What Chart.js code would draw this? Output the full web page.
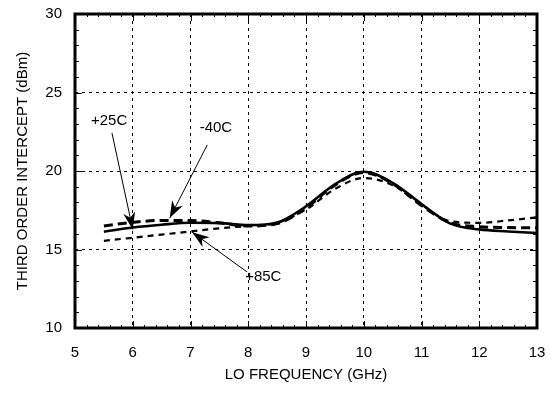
<!DOCTYPE html>
<html>
<head>
<meta charset="utf-8">
<script src="https://cdn.jsdelivr.net/npm/chart.js@4.4.1/dist/chart.umd.min.js"></script>
<style>
  html, body { margin: 0; padding: 0; background: #fff; }
  #wrap { width: 553px; height: 394px; }
</style>
</head>
<body>
<div id="wrap"><canvas id="ip3Chart" width="553" height="394"></canvas></div>
<script>
// LO frequency (GHz)
const freqs = [5.5, 6, 6.5, 7, 7.5, 8, 8.5, 9, 9.5, 10, 10.5, 11, 11.5, 12, 12.5, 13];

// Third order intercept (dBm) per temperature
const ip3_25C  = [16.13, 16.4, 16.58, 16.7, 16.68, 16.55, 16.72, 17.75, 19.15, 19.95, 19.25, 17.9, 16.65, 16.28, 16.15, 16.05];
const ip3_m40C = [16.5, 16.73, 16.85, 16.85, 16.7, 16.5, 16.65, 17.65, 19.1, 19.9, 19.2, 17.8, 16.7, 16.45, 16.4, 16.38];
const ip3_85C  = [15.55, 15.75, 15.95, 16.15, 16.35, 16.5, 16.7, 17.55, 18.85, 19.55, 19.1, 17.85, 16.8, 16.7, 16.85, 17.05];

const xTicks = [5, 6, 7, 8, 9, 10, 11, 12, 13];
const yTicks = [10, 15, 20, 25, 30];

// label callouts: text, text position, arrow tail, arrow tip (data units)
const callouts = [
    { text: '+25C', tx: 5.59, ty: 23.18, x0: 5.64, y0: 22.42, x1: 6.0, y1: 16.28 },
    { text: '-40C', tx: 7.44, ty: 22.74, x0: 7.29, y0: 21.66, x1: 6.64, y1: 17.0 },
    { text: '+85C', tx: 8.26, ty: 13.25, x0: 7.98, y0: 13.57, x1: 7.03, y1: 16.1 }
];

function pts(ys) {
    return freqs.map((f, i) => ({ x: f, y: ys[i] }));
}

const FONT = '"Liberation Sans", Arial, sans-serif';

// minor ticks, frame and callouts
const decorPlugin = {
    id: 'decor',
    afterDatasetsDraw(chart) {
        const ctx = chart.ctx;
        const xs = chart.scales.x, ys = chart.scales.y;
        const a = chart.chartArea;
        ctx.save();
        ctx.strokeStyle = '#000';
        ctx.lineWidth = 1;
        ctx.beginPath();
        for (let i = 0; i <= 40; i++) {
            const v = 5 + i * 0.2;
            const px = Math.round(xs.getPixelForValue(v)) + 0.5;
            const len = (i % 5 === 0) ? 7 : 3;
            ctx.moveTo(px, a.bottom); ctx.lineTo(px, a.bottom - len);
            ctx.moveTo(px, a.top); ctx.lineTo(px, a.top + len);
        }
        for (let v = 10; v <= 30; v++) {
            const py = Math.round(ys.getPixelForValue(v)) + 0.5;
            const len = (v % 5 === 0) ? 7 : 4;
            ctx.moveTo(a.left, py); ctx.lineTo(a.left + len, py);
            ctx.moveTo(a.right, py); ctx.lineTo(a.right - len, py);
        }
        ctx.stroke();

        ctx.lineWidth = 3;
        ctx.strokeRect(a.left, a.top, a.right - a.left, a.bottom - a.top);

        ctx.font = '15px ' + FONT;
        ctx.fillStyle = '#000';
        ctx.textAlign = 'center';
        ctx.textBaseline = 'middle';
        callouts.forEach(c => {
            ctx.fillText(c.text, xs.getPixelForValue(c.tx), ys.getPixelForValue(c.ty));
            const x0 = xs.getPixelForValue(c.x0), y0 = ys.getPixelForValue(c.y0);
            const x1 = xs.getPixelForValue(c.x1), y1 = ys.getPixelForValue(c.y1);
            const ang = Math.atan2(y1 - y0, x1 - x0);
            ctx.lineWidth = 1;
            ctx.beginPath();
            ctx.moveTo(x0, y0);
            ctx.lineTo(x1, y1);
            ctx.stroke();
            const L = 17, W = 6;
            ctx.beginPath();
            ctx.moveTo(x1, y1);
            ctx.lineTo(x1 - L * Math.cos(ang) + W * Math.sin(ang), y1 - L * Math.sin(ang) - W * Math.cos(ang));
            ctx.lineTo(x1 - L * 0.7 * Math.cos(ang), y1 - L * 0.7 * Math.sin(ang));
            ctx.lineTo(x1 - L * Math.cos(ang) - W * Math.sin(ang), y1 - L * Math.sin(ang) + W * Math.cos(ang));
            ctx.closePath();
            ctx.fill();
        });
        ctx.restore();
    }
};

const fontSpec = { family: FONT, size: 15 };

new Chart(document.getElementById('ip3Chart'), {
    type: 'line',
    data: {
        datasets: [
            { label: '+85C', data: pts(ip3_85C), borderColor: '#000', borderWidth: 2.2, borderDash: [6, 5], pointRadius: 0, tension: 0.4, cubicInterpolationMode: 'monotone' },
            { label: '-40C', data: pts(ip3_m40C), borderColor: '#000', borderWidth: 3, borderDash: [9, 5], pointRadius: 0, tension: 0.4, cubicInterpolationMode: 'monotone' },
            { label: '+25C', data: pts(ip3_25C), borderColor: '#000', borderWidth: 2.6, pointRadius: 0, tension: 0.4, cubicInterpolationMode: 'monotone' }
        ]
    },
    options: {
        responsive: false,
        animation: false,
        layout: { padding: { top: 14, right: 16, left: 0, bottom: 0 } },
        plugins: { legend: { display: false }, tooltip: { enabled: false } },
        scales: {
            x: {
                type: 'linear', min: 5, max: 13,
                afterBuildTicks: s => { s.ticks = xTicks.map(v => ({ value: v })); },
                afterFit: s => { s.height = 66; s.paddingLeft = 0; s.paddingRight = 0; },
                ticks: { color: '#000', font: fontSpec, padding: 16, maxRotation: 0 },
                grid: { color: '#000', lineWidth: 1, drawTicks: false },
                border: { display: false, dash: [3, 4] },
                title: { display: true, text: 'LO FREQUENCY (GHz)', color: '#000', font: fontSpec, padding: { top: 4, bottom: 10 } }
            },
            y: {
                type: 'linear', min: 10, max: 30,
                afterBuildTicks: s => { s.ticks = yTicks.map(v => ({ value: v })); },
                afterFit: s => { s.width = 75; s.paddingTop = 0; s.paddingBottom = 0; },
                ticks: { color: '#000', font: fontSpec, padding: 13 },
                grid: { color: '#000', lineWidth: 1, drawTicks: false },
                border: { display: false, dash: [3, 4] },
                title: { display: true, text: 'THIRD ORDER INTERCEPT (dBm)', color: '#000', font: fontSpec, padding: { top: 14, bottom: 0 } }
            }
        }
    },
    plugins: [decorPlugin]
});
</script>
</body>
</html>
